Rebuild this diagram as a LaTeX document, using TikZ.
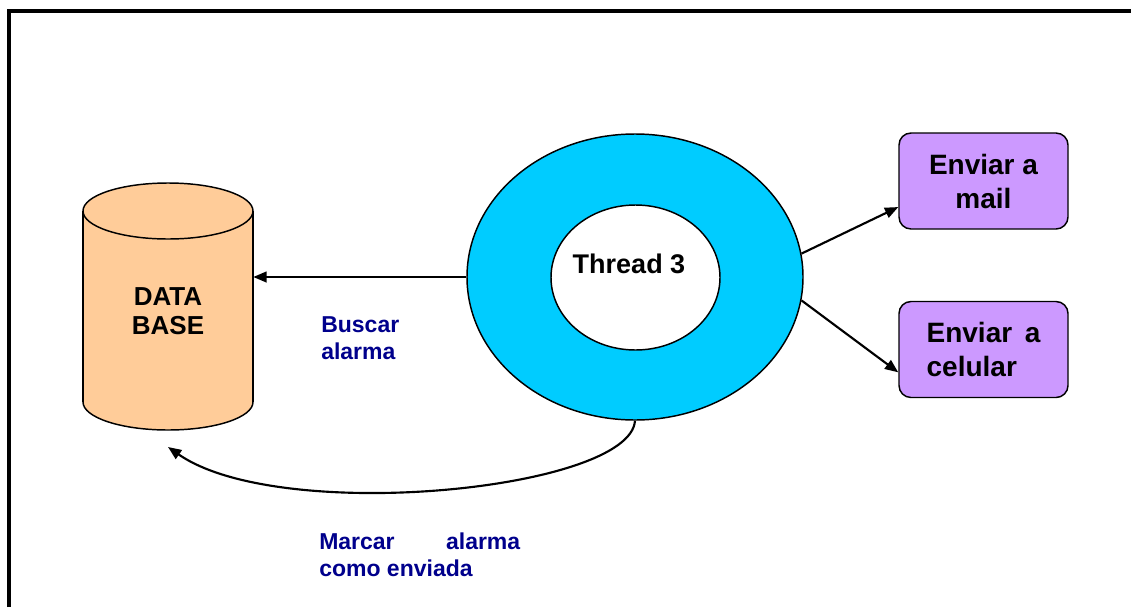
\documentclass[tikz,border=0pt]{standalone}
\usepackage{fontspec}
\setmainfont{Liberation Sans}
\usetikzlibrary{arrows.meta,shapes.geometric}

\definecolor{ringcyan}{RGB}{0,204,255}
\definecolor{dbpeach}{RGB}{255,204,153}
\definecolor{boxlilac}{RGB}{204,153,255}
\definecolor{labelnavy}{RGB}{0,0,140}

\begin{document}
\begin{tikzpicture}[x=0.75pt,y=-0.75pt,
  frame/.style={line width=3pt, line join=miter},
  conn/.style={line width=1.6pt, -{Triangle[length=10pt,width=8pt]}},
  outline/.style={line width=1.1pt},
  ring/.style={ellipse, draw, outline, inner sep=0pt},
  actionbox/.style={draw, outline, fill=boxlilac, rounded corners=9pt,
    minimum width=126.75pt, minimum height=72pt, inner sep=0pt,
    font=\bfseries\fontsize{21}{25.5}\selectfont},
  dbtext/.style={inner sep=0pt, align=center, minimum width=127.5pt,
    font=\bfseries\fontsize{19.5}{21.75}\selectfont},
  steplabel/.style={text=labelnavy, inner sep=0pt, align=left, anchor=north west,
    font=\bfseries\fontsize{17.25}{20.25}\selectfont},
]
\useasboundingbox (0,0) rectangle (1131,607);

% outer frame (open on the right and at the bottom)
\draw[frame] (9,607) -- (9,11) -- (1131,11);

% database cylinder
\fill[dbpeach] (83,211) rectangle (253,402);
\fill[dbpeach] (168,402) ellipse[x radius=63.75pt, y radius=21pt];
\begin{scope}
  \clip (60,402) rectangle (280,445);
  \draw[outline] (168,402) ellipse[x radius=63.75pt, y radius=21pt];
\end{scope}
\draw[outline] (83,402) -- (83,211) (253,211) -- (253,402);
\draw[outline, fill=dbpeach] (168,211) ellipse[x radius=63.75pt, y radius=21pt];
\node[dbtext] (db) at (168,311) {DATA\\BASE};

% thread ring
\node[ring, fill=ringcyan, minimum width=252pt, minimum height=214.5pt] (outer) at (635,277) {};
\node[ring, fill=white, minimum width=126.75pt, minimum height=108.75pt] (inner) at (635.5,277.5) {};
\node[font=\bfseries\fontsize{20.25}{24}\selectfont, anchor=base, inner sep=0pt] (thr) at (629,273) {Thread 3};

% action boxes
\node[actionbox, align=center] (mail) at (983.5,181) {Enviar a\\mail};
\node[actionbox, align=left] (cel) at (983.5,349.5) {Enviar\hspace{0.45em}a\\celular};

% connectors
\draw[conn] (outer.west) -- (outer.west -| db.east);
\draw[conn] (outer.8) -- (mail.197);
\draw[conn] (outer.352) -- (cel.195);
\coordinate (dbin) at (168,447);
\draw[conn] (outer.south) .. controls (630,490) and (280,525) .. (dbin);

% step labels
\node[steplabel] (buscar) at (321,316) {Buscar\\alarma};
\node[steplabel] (marcar) at (319,533) {\makebox[150.75pt][l]{Marcar\hfill alarma}\\como enviada};
\end{tikzpicture}
\end{document}
